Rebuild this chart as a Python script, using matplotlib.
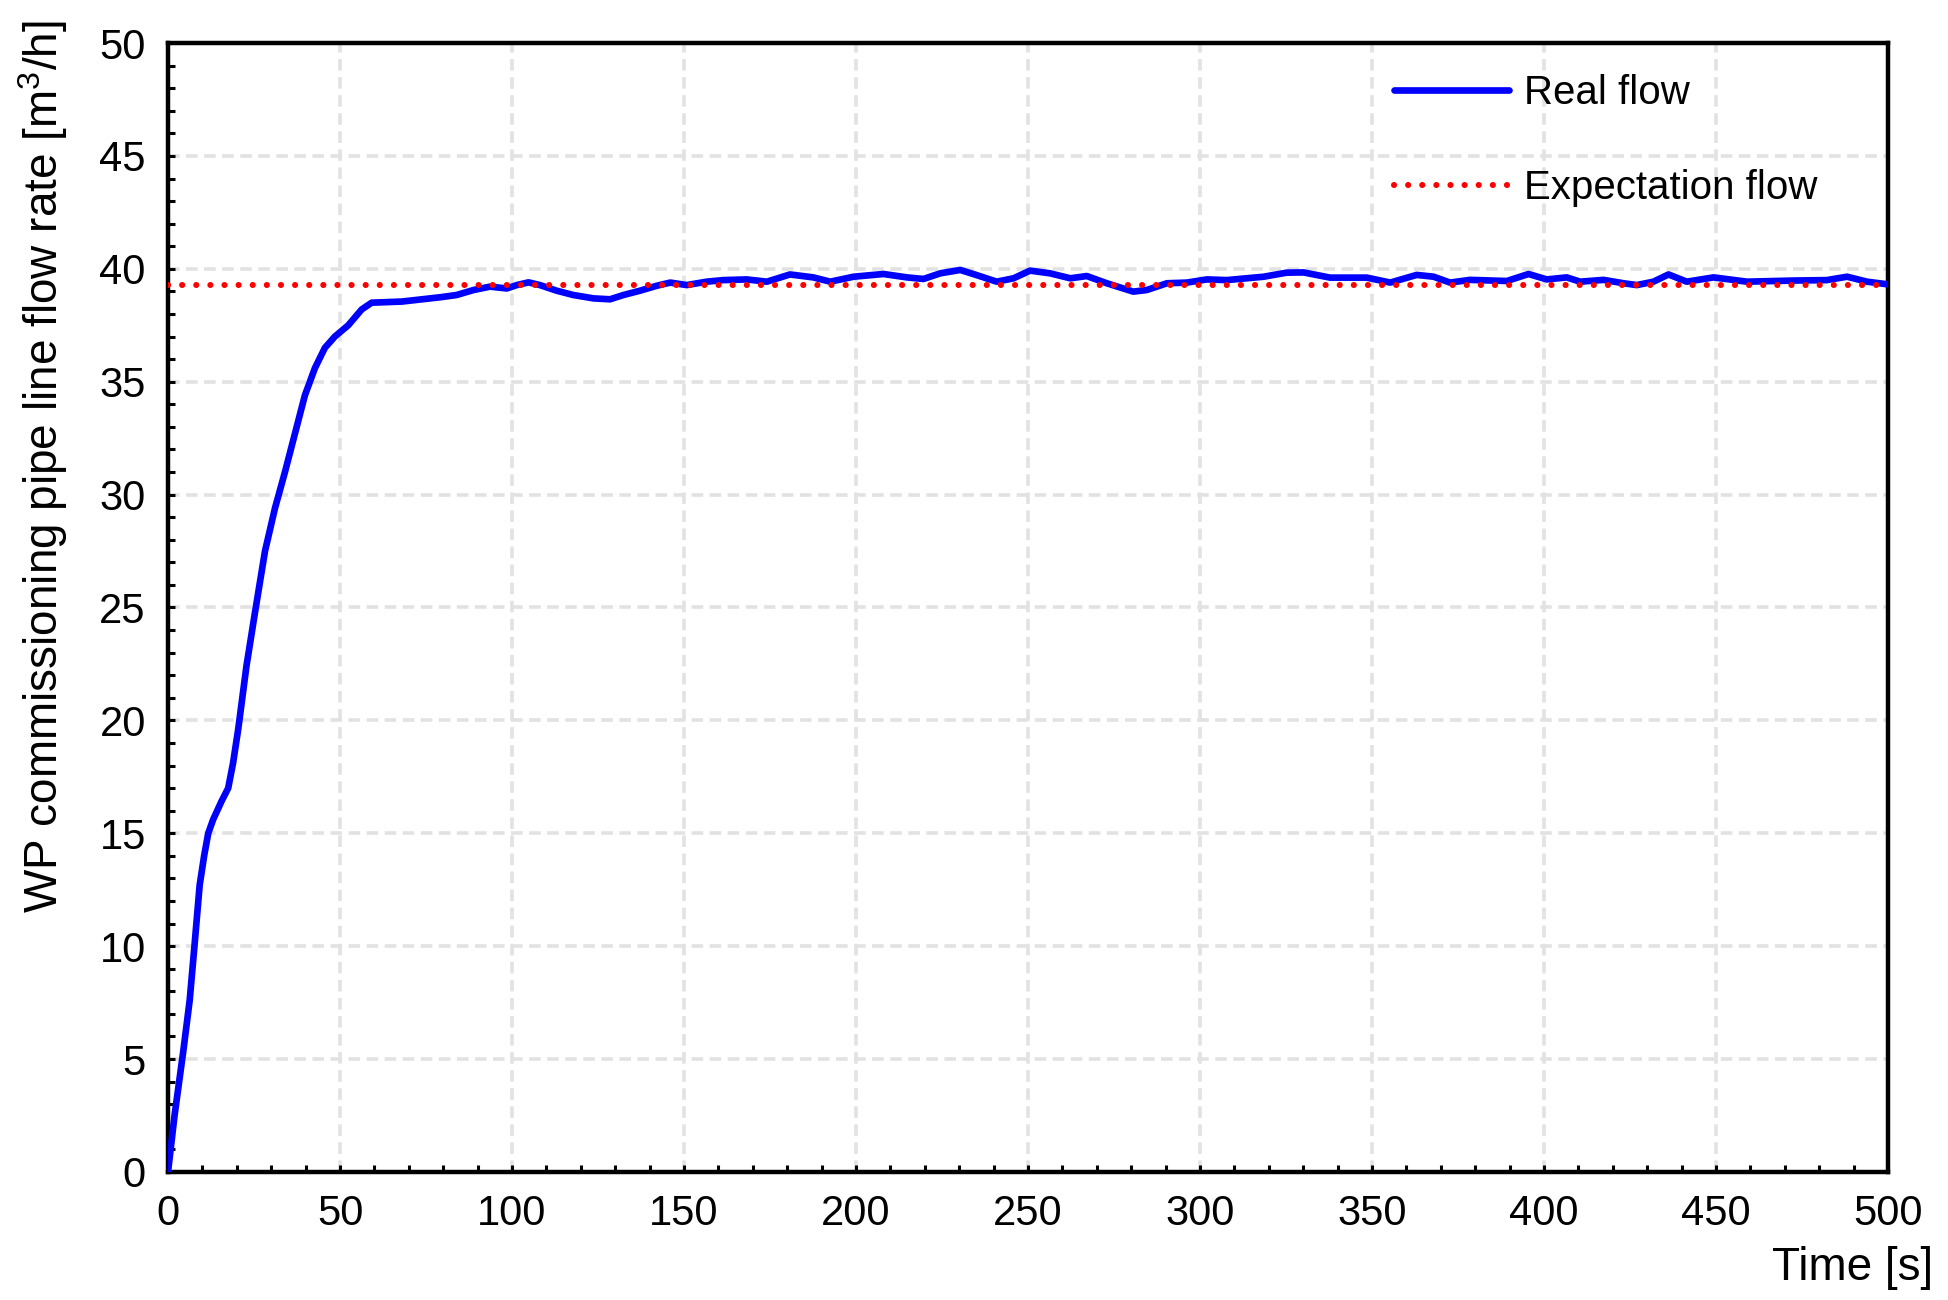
import matplotlib
matplotlib.use('Agg')
from matplotlib import pyplot as plt
from matplotlib.ticker import MultipleLocator

# real flow readings from the commissioning pipe line
time_s = [0, 1.9, 4.4, 6.3, 7.8, 9.2, 10.5, 11.7, 13.1, 15.5,
          17.5, 18.9, 20.4, 22.8, 25.2, 28.2, 31.1, 34.0, 36.9, 39.8,
          42.7, 45.6, 48.5, 52.4, 56.3, 59.2, 68,
          79.1, 83.9, 88.8, 93.6, 98.5, 101.4, 104.8, 108.1, 113, 117.8,
          123.7, 128.5, 132.4, 137.2, 142.1, 146, 150.8, 156.6, 161.4,
          168.2, 174.1, 180.8, 187.6, 192.5, 199.3, 208, 214.8, 219.6, 224.5,
          230.3, 235.1, 240.9,
          245.8, 250.6, 256.4, 262.3, 267.1, 272.9, 280.6, 284.5, 290.4,
          296.2, 302, 307.8, 318.5, 325.2,
          330.1, 337.8, 348.5, 355.3, 363, 367.9, 372.7, 378.5, 389.2, 395.5,
          400.8, 406.6,
          410.5, 417.3, 423.1, 427, 431.8, 436.2, 441.5, 449.3, 459, 472.5,
          482.2, 488.1, 493.9, 500]
real_flow = [0, 2.5, 5.3, 7.6, 10.2, 12.7, 14.0, 15.0, 15.6, 16.4,
             17.0, 18.1, 19.6, 22.4, 24.7, 27.5, 29.4, 31.0, 32.7, 34.4,
             35.6, 36.5, 37.0, 37.5, 38.2, 38.5, 38.55,
             38.74, 38.84, 39.06, 39.21, 39.13, 39.28, 39.40, 39.28, 39.03, 38.84,
             38.69, 38.65, 38.84, 39.03, 39.25, 39.39, 39.28, 39.43, 39.50,
             39.53, 39.43, 39.75, 39.62, 39.43, 39.65, 39.77, 39.62, 39.55, 39.80,
             39.95, 39.72, 39.43,
             39.58, 39.92, 39.80, 39.58, 39.68, 39.36, 38.99, 39.06, 39.36,
             39.39, 39.53, 39.50, 39.65, 39.83,
             39.84, 39.61, 39.61, 39.39, 39.73, 39.65, 39.39, 39.51, 39.46, 39.77,
             39.53, 39.62,
             39.43, 39.51, 39.36, 39.28, 39.43, 39.75, 39.43, 39.62, 39.43, 39.48,
             39.50, 39.65, 39.43, 39.31]
expect_time = [0, 500]
expect_flow = [39.27, 39.27]

plt.rcParams['font.family'] = ['Liberation Sans', 'DejaVu Sans']
plt.rcParams['mathtext.fontset'] = 'custom'
plt.rcParams['mathtext.rm'] = 'Liberation Sans'

fig = plt.figure(figsize=(9.745, 6.5), dpi=200)
ax = fig.add_axes([0.0862, 0.0985, 0.8825, 0.8684])

ax.plot(time_s, real_flow, color='#0000ff', lw=2.4, label='Real flow',
        solid_capstyle='round', solid_joinstyle='round', zorder=3)
ax.plot(expect_time, expect_flow, color='#ff0000', lw=2.2,
        linestyle=(0, (0.01, 2.3)), dash_capstyle='round',
        label='Expectation flow', zorder=4)

ax.set_xlim(0, 500)
ax.set_ylim(0, 50)
ax.xaxis.set_major_locator(MultipleLocator(50))
ax.xaxis.set_minor_locator(MultipleLocator(10))
ax.yaxis.set_major_locator(MultipleLocator(5))
ax.yaxis.set_minor_locator(MultipleLocator(1))

ax.grid(True, which='major', color='#e2e2e2', lw=1.3, linestyle=(0, (3.2, 1.8)))
ax.set_axisbelow(True)

for s in ax.spines.values():
    s.set_linewidth(1.6)
ax.tick_params(which='both', direction='in', top=False, right=False,
               length=7 * 72 / 200, width=1.1, labelsize=15, pad=8)

ax.set_ylabel('WP commissioning pipe line flow rate [m$^3$/h]', fontsize=16.5,
              va='center')
ax.yaxis.set_label_coords(-0.0724, 0.625)
ax.set_xlabel('Time [s]', fontsize=16.5, ha='right', va='center')
ax.xaxis.set_label_coords(1.026, -0.085)

ax.legend(loc='upper left', bbox_to_anchor=(0.701, 0.99), frameon=False,
          fontsize=14.5, handlelength=2.85, handletextpad=0.37,
          labelspacing=1.4, borderpad=0)

fig.savefig('out.png', dpi=200)
